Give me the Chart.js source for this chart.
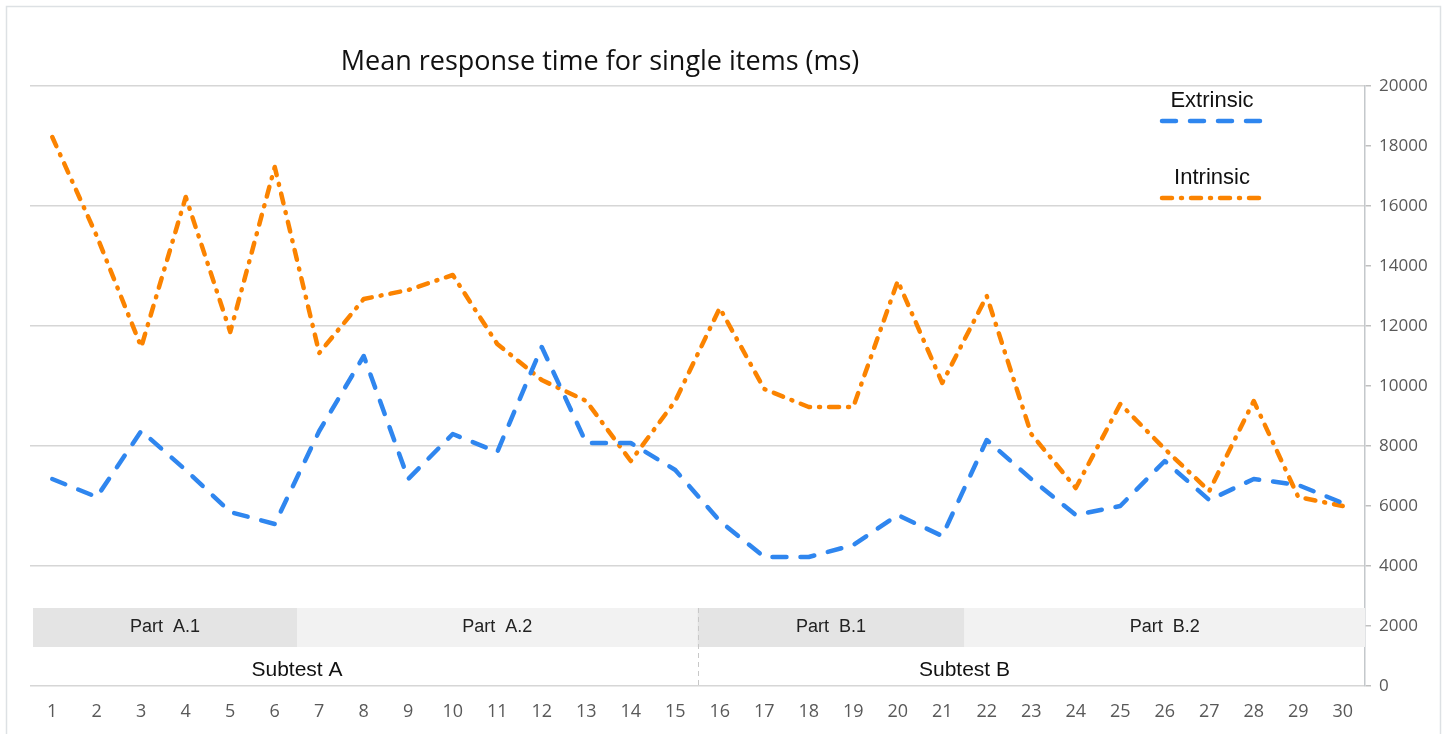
<!doctype html>
<html lang="en">
<head>
    <meta charset="utf-8">
    <title>Mean response time for single items (ms)</title>
    <style>
        html, body { margin: 0; padding: 0; background: #fff; }
        #myChart { display: block; }
    </style>
</head>
<body>
    <canvas id="myChart" width="1447" height="734" style="width:1447px;height:734px"></canvas>

    <script src="https://cdn.jsdelivr.net/npm/chart.js"></script>
    <script>
        // data
        const items = ['1','2','3','4','5','6','7','8','9','10','11','12','13','14','15',
                       '16','17','18','19','20','21','22','23','24','25','26','27','28','29','30'];
        const extrinsic = [6900, 6300, 8500, 7200, 5800, 5400, 8500, 11000, 6900, 8400,
                           7800, 11300, 8100, 8100, 7200, 5500, 4300, 4300, 4700, 5700,
                           5000, 8200, 6900, 5700, 6000, 7500, 6200, 6900, 6700, 6100];
        const intrinsic = [18300, 15000, 11300, 16300, 11800, 17300, 11100, 12900, 13200, 13700,
                           11400, 10200, 9500, 7500, 9500, 12600, 9900, 9300, 9300, 13500,
                           10100, 13000, 8400, 6600, 9400, 7900, 6500, 9500, 6300, 6000];

        // item groups shown in the bands under the lines
        const parts = ['Part  A.1', 'Part  A.2', 'Part  B.1', 'Part  B.2'];
        const partFirst = [1, 7, 16, 22];
        const partLast = [6, 15, 21, 30];
        const subtests = ['Subtest A', 'Subtest B'];
        // subtest label sits on the boundary after this item
        const subtestLabelAfter = [6, 21];
        const subtestLast = [15, 30];

        const seriesNames = ['Extrinsic', 'Intrinsic'];
        const seriesColors = ['#2f86ef', '#fb8300'];
        const seriesDash = [[14, 14], [10, 9, 1, 9]];

        const titleText = 'Mean response time for single items (ms)';

        // background, frame, title, bands and legend
        const decor = {
            id: 'decor',
            beforeDraw: (chart) => {
                const ctx = chart.ctx;
                ctx.save();
                ctx.fillStyle = '#fff';
                ctx.fillRect(0, 0, chart.width, chart.height);
                ctx.strokeStyle = '#dde1e4';
                ctx.lineWidth = 1.5;
                ctx.strokeRect(6.5, 6.5, chart.width - 13, chart.height - 4);
                ctx.fillStyle = '#111';
                ctx.font = '27px "Open Sans"';
                ctx.textAlign = 'center';
                ctx.textBaseline = 'middle';
                ctx.fillText(titleText, 600, 62);
                ctx.restore();
            },
            beforeDatasetsDraw: (chart) => {
                const ctx = chart.ctx;
                const x = chart.scales.x;
                const y = chart.scales.y;
                const half = (x.getPixelForValue(1) - x.getPixelForValue(0)) / 2;
                const bandTop = y.getPixelForValue(2600);
                const bandBot = y.getPixelForValue(1300);
                ctx.save();
                parts.forEach((p, i) => {
                    const l = x.getPixelForValue(partFirst[i] - 1) - half + (i === 0 ? 3 : 0);
                    const r = x.getPixelForValue(partLast[i] - 1) + half;
                    ctx.fillStyle = i % 2 === 0 ? '#e4e4e4' : '#f2f2f2';
                    ctx.fillRect(l, bandTop, r - l, bandBot - bandTop);
                    ctx.fillStyle = '#222';
                    ctx.font = '18px "Liberation Sans"';
                    ctx.textAlign = 'center';
                    ctx.textBaseline = 'middle';
                    ctx.fillText(p, (l + r) / 2, (bandTop + bandBot) / 2);
                });
                subtests.forEach((s, i) => {
                    const cx = x.getPixelForValue(subtestLabelAfter[i] - 1) + half;
                    ctx.fillStyle = '#111';
                    ctx.font = '21px "Liberation Sans"';
                    ctx.textAlign = 'center';
                    ctx.textBaseline = 'middle';
                    ctx.fillText(s, cx, y.getPixelForValue(530));
                });
                // divider between the two subtests
                const dx = Math.round(x.getPixelForValue(subtestLast[0] - 1) + half) + 0.5;
                ctx.strokeStyle = '#c8c8c8';
                ctx.lineWidth = 1;
                ctx.setLineDash([5, 4]);
                ctx.beginPath();
                ctx.moveTo(dx, bandTop);
                ctx.lineTo(dx, y.getPixelForValue(0));
                ctx.stroke();
                ctx.restore();
            },
            afterDraw: (chart) => {
                // legend: name above a sample of the line
                const ctx = chart.ctx;
                ctx.save();
                seriesNames.forEach((n, i) => {
                    const cy = 101 + i * 77;
                    ctx.fillStyle = '#111';
                    ctx.font = '22px "Liberation Sans"';
                    ctx.textAlign = 'center';
                    ctx.textBaseline = 'middle';
                    ctx.fillText(n, 1212, cy);
                    ctx.strokeStyle = seriesColors[i];
                    ctx.lineWidth = 4.5;
                    ctx.lineCap = 'round';
                    ctx.setLineDash(seriesDash[i]);
                    ctx.beginPath();
                    ctx.moveTo(1162, cy + 20);
                    ctx.lineTo(1266, cy + 20);
                    ctx.stroke();
                });
                ctx.restore();
            }
        };

        const data = {
            labels: items,
            datasets: [extrinsic, intrinsic].map((vals, i) => ({
                label: seriesNames[i],
                data: vals,
                borderColor: seriesColors[i],
                backgroundColor: seriesColors[i],
                borderWidth: 4.5,
                borderDash: seriesDash[i],
                borderCapStyle: 'round',
                borderJoinStyle: 'round',
                pointRadius: 0,
                tension: 0,
                fill: false
            }))
        };

        const config = {
            type: 'line',
            data,
            plugins: [decor],
            options: {
                responsive: false,
                animation: false,
                layout: { padding: { left: 30, top: 86, right: 0, bottom: 0 } },
                plugins: {
                    legend: { display: false },
                    title: { display: false },
                    tooltip: { enabled: false }
                },
                scales: {
                    x: {
                        offset: true,
                        grid: { display: false, drawTicks: false },
                        border: { display: false },
                        ticks: {
                            color: '#595959',
                            font: { family: 'Open Sans', size: 18 },
                            padding: 15,
                            autoSkip: false,
                            maxRotation: 0
                        },
                        afterFit: (scale) => { scale.height = 48; }
                    },
                    y: {
                        position: 'right',
                        min: 0,
                        max: 20000,
                        ticks: {
                            stepSize: 2000,
                            color: '#595959',
                            font: { family: 'Open Sans', size: 17 },
                            padding: 8,
                            callback: (value) => String(value)
                        },
                        grid: {
                            color: (c) => (c.tick && c.tick.value % 4000 === 0) ? '#d6d6d6' : 'rgba(0,0,0,0)',
                            lineWidth: 1.5,
                            tickColor: '#c0c0c0',
                            tickLength: 6
                        },
                        border: { display: true, color: '#c4c8cb', width: 1.5 },
                        afterFit: (scale) => { scale.width = 82; }
                    }
                }
            }
        };

        const myChart = new Chart(document.getElementById('myChart'), config);
    </script>
</body>
</html>
